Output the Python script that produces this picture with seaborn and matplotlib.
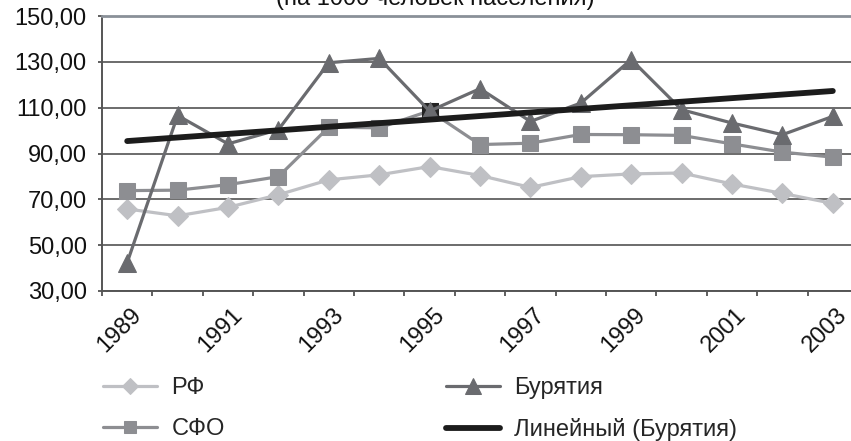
import numpy as np
import pandas as pd
import matplotlib
matplotlib.use("Agg")
import matplotlib.pyplot as plt
import seaborn as sns
from matplotlib.ticker import FixedLocator

# ---- data ----
years = list(range(1989, 2004))
rf = [65.8, 62.8, 66.5, 72.0, 78.5, 80.7, 84.3, 80.4, 75.2, 79.9, 81.1, 81.5, 76.7, 72.6, 68.2]
sfo = [73.8, 74.0, 76.4, 79.9, 101.5, 101.2, 108.6, 93.9, 94.5, 98.3, 98.2, 97.9, 94.2, 90.6, 88.4]
bur = [42.4, 106.6, 94.2, 100.4, 129.6, 131.5, 108.5, 118.3, 104.0, 112.0, 131.0, 109.1, 103.3, 98.2, 106.2]
yticks = [30, 50, 70, 90, 110, 130, 150]
xlabel_years = years[::2]
names = ["РФ", "СФО", "Бурятия", "Линейный (Бурятия)"]
title = "(на 1000 человек населения)"
highlight_year = 1995

sns.set_style("white")
plt.rcParams["font.family"] = ["Liberation Sans", "DejaVu Sans"]

W, H = 851, 441
fig = plt.figure(figsize=(W / 100, H / 100), dpi=100)
ax = fig.add_axes([102 / W, 1 - 291 / H, 756 / W, 275 / H])

c_rf, c_sfo, c_bur, c_tr = "#bfc0c4", "#8d8e92", "#6a6b6f", "#1c1c1c"

df = pd.DataFrame({"year": years, "rf": rf, "sfo": sfo, "bur": bur})
coef = np.polyfit(df["year"], df["bur"], 1)
df["trend"] = np.polyval(coef, df["year"])

sns.lineplot(data=df, x="year", y="rf", ax=ax, color=c_rf, lw=2.3, marker="D",
             ms=10, mec=c_rf, mfc=c_rf, label=names[0], zorder=3)
sns.lineplot(data=df, x="year", y="sfo", ax=ax, color=c_sfo, lw=2.3, marker="s",
             ms=11, mec=c_sfo, mfc=c_sfo, label=names[1], zorder=3)
hl = df[df["year"] == highlight_year]
sns.lineplot(data=hl, x="year", y="sfo", ax=ax, color="#222222", lw=0, marker="s",
             ms=11, mec="#222222", mfc="#222222", label="_nolegend_", zorder=3.5)
sns.lineplot(data=df, x="year", y="bur", ax=ax, color=c_bur, lw=2.3, marker="^",
             ms=13, mec=c_bur, mfc=c_bur, label=names[2], zorder=4)
sns.lineplot(data=df, x="year", y="trend", ax=ax, color=c_tr, lw=4.2,
             label=names[3], zorder=5)

ax.set_xlim(years[0] - 0.5, years[-1] + 0.5)
ax.set_ylim(yticks[0], yticks[-1])
ax.set_xlabel("")
ax.set_ylabel("")

ax.set_yticks(yticks)
ax.set_yticklabels([f"{v:.2f}".replace(".", ",") for v in yticks], fontsize=17)
ax.yaxis.grid(True, color="#444444", lw=1.1)
ax.set_axisbelow(True)

# label anchors sit a little right of each category centre (as in the source)
ax.set_xticks([y + 0.22 for y in xlabel_years])
ax.set_xticklabels([str(y) for y in xlabel_years], rotation=45, ha="right",
                   va="center", rotation_mode="anchor", fontsize=17)
ax.xaxis.set_minor_locator(FixedLocator([y - 0.5 for y in years] + [years[-1] + 0.5]))
ax.tick_params(axis="x", which="major", length=0, pad=15, colors="#111111")
ax.tick_params(axis="x", which="minor", bottom=True, length=3.5, width=1.2,
               color="#444444", direction="out")
ax.tick_params(axis="y", which="major", left=True, length=3, width=1.2,
               color="#444444", pad=8, direction="out")
ax.tick_params(axis="y", labelcolor="#111111")

ax.spines["right"].set_visible(False)
ax.spines["top"].set_color("#8a9098")
ax.spines["top"].set_linewidth(2)
ax.spines["left"].set_color("#555555")
ax.spines["left"].set_linewidth(1.4)
ax.spines["bottom"].set_color("#555555")
ax.spines["bottom"].set_linewidth(1.4)

handles, labels = ax.get_legend_handles_labels()
order = [labels.index(n) for n in names]
ax.legend([handles[i] for i in order], [labels[i] for i in order], ncol=2,
          frameon=False, fontsize=17, loc="center left",
          bbox_to_anchor=(103 / W, 1 - 409 / H), bbox_transform=fig.transFigure,
          borderpad=0, borderaxespad=0, handlelength=2.3, handletextpad=0.6,
          columnspacing=9.35, labelspacing=0.8, markerscale=0.85)

fig.text(435 / W, 1 - 5 / H, title, ha="center", va="baseline", fontsize=17,
         color="#111111")

fig.savefig("out.png", dpi=100)
